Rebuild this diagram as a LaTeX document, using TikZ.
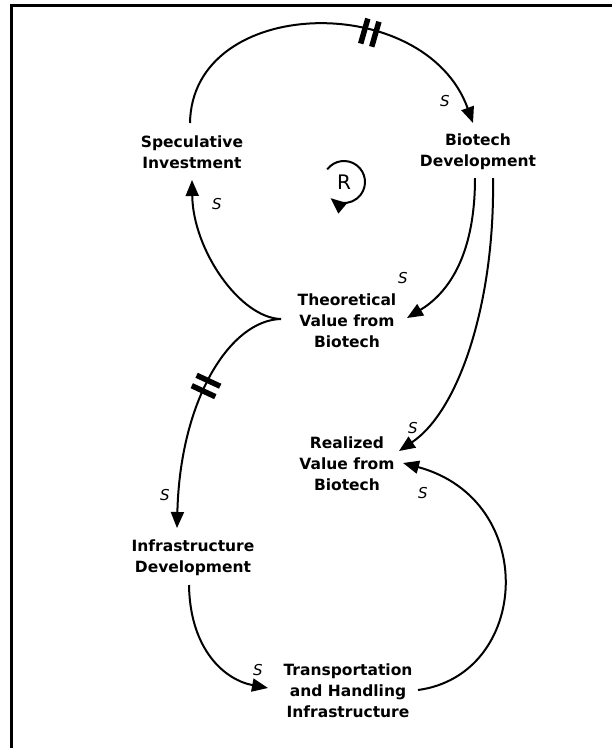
\documentclass[tikz,border=0pt]{standalone}
\usepackage{fontspec}
\setmainfont{DejaVu Sans}
\usetikzlibrary{arrows.meta,decorations.markings}
\begin{document}
\begin{tikzpicture}[x=1pt,y=-1pt,
  var/.style={font=\bfseries\fontsize{15.5}{21}\selectfont, align=center, inner sep=0pt},
  pol/.style={font=\itshape\fontsize{15}{17}\selectfont, inner sep=0pt},
  link/.style={line width=2pt, -{Triangle[length=16pt,width=13pt]}},
  delay/.style={postaction={decorate}, decoration={markings, mark=at position #1 with {\fill (-8.5pt,-13pt) rectangle (-3pt,13pt); \fill (3pt,-13pt) rectangle (8.5pt,13pt);}}}
]
\useasboundingbox (0,0) rectangle (612,748);
\draw[line width=2.5pt] (11.5,750) -- (11.5,5.5) -- (614,5.5);

% variables
\node[var] (SI) at (192,152) {Speculative\\Investment};
\node[var] (BD) at (478,152) {Biotech\\Development};
\node[var] (TV) at (347,321) {Theoretical\\Value from\\Biotech};
\node[var] (RV) at (347,464) {Realized\\Value from\\Biotech};
\node[var] (ID) at (193,558) {Infrastructure\\Development};
\node[var] (TH) at (348,691) {Transportation\\and Handling\\Infrastructure};
\node[font=\fontsize{20}{22}\selectfont, inner sep=0pt] (Rl) at (344,182) {R};

% polarity labels
\node[pol] (s1) at (445,101) {S};
\node[pol] (s2) at (217,204) {S};
\node[pol] (s3) at (403,278) {S};
\node[pol] (s4) at (413,428) {S};
\node[pol] (s5) at (423,493) {S};
\node[pol] (s6) at (165,495) {S};
\node[pol] (s7) at (258,670) {S};

% links
\draw[link, delay=0.62] ([shift={(-2,-29)}]SI.center) .. controls (192,-5) and (425,-10) .. ([shift={(-5,-29)}]BD.center);
\draw[link] ([shift={(-3,26)}]BD.center) .. controls (475,260) and (445,295) .. ([shift={(60,-3)}]TV.center);
\draw[link] ([shift={(15,26)}]BD.center) .. controls (495,300) and (460,410) .. ([shift={(52,-13)}]RV.center);
\draw[link] ([shift={(-66,-2)}]TV.center) .. controls (240,318) and (193,250) .. ([shift={(0,28)}]SI.center);
\draw[link, delay=0.42] ([shift={(-66,-2)}]TV.center) .. controls (230,320) and (180,400) .. ([shift={(-16,-30)}]ID.center);
\draw[link] ([shift={(-4,27)}]ID.center) .. controls (190,650) and (225,680) .. ([shift={(-80,-3)}]TH.center);
\draw[link] ([shift={(70,-1)}]TH.center) .. controls (530,675) and (540,500) .. ([shift={(56,-1)}]RV.center);
\draw[link] (Rl.center) ++(217:21) arc[start angle=217, end angle=490, radius=21];
\end{tikzpicture}
\end{document}
